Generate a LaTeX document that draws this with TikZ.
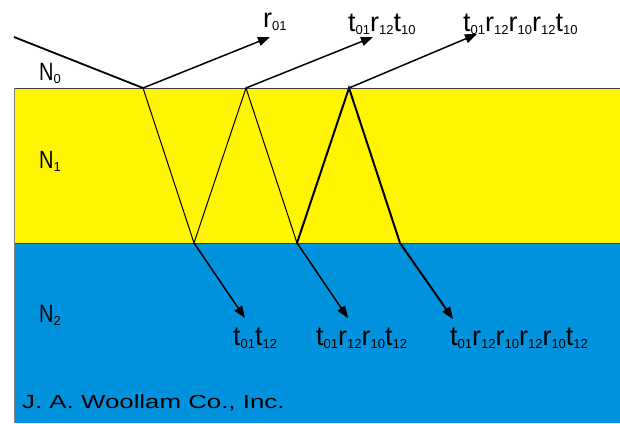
\documentclass[tikz,border=0pt]{standalone}
\usepackage{fontspec}
\setmainfont{Liberation Sans}
\usetikzlibrary{arrows.meta}
\definecolor{filmyellow}{RGB}{255,245,0}
\definecolor{subblue}{RGB}{0,146,221}
\definecolor{edgegray}{RGB}{60,60,60}
\newcommand\sbs[1]{\raisebox{-3pt}{\fontsize{13}{13}\selectfont #1}}
\newcommand\mainf{\fontsize{27}{27}\selectfont}
\tikzset{
  ray/.style={line width=1.5pt, draw=black},
  thinray/.style={line width=1pt, draw=black},
  boldray/.style={line width=2pt, draw=black},
  tip/.style={-{Triangle[length=12pt,width=9pt]}},
  lab/.style={anchor=base west, inner sep=0pt, font=\mainf},
  nlab/.style={anchor=base west, inner sep=0pt, font=\fontsize{25}{25}\selectfont},
}
\begin{document}
\begin{tikzpicture}[x=1pt,y=-1pt]
\useasboundingbox (0,0) rectangle (620,423);
\fill[white] (0,0) rectangle (620,423);
% layers
\fill[filmyellow] (14,88) rectangle (620,243);
\fill[subblue] (14,243) rectangle (620,423);
\draw[edgegray, line width=1pt] (14,88) -- (620,88);
\draw[edgegray, line width=1pt] (14,243) -- (620,243);
\draw[gray, line width=1pt] (14,88) -- (14,423);
% points
\coordinate (src) at (14,37);
\coordinate (a1) at (143,88);
\coordinate (a2) at (246,88);
\coordinate (a3) at (349,88);
\coordinate (b1) at (194,243);
\coordinate (b2) at (297,243);
\coordinate (b3) at (400,243);
\coordinate (r1) at (270,37);
\coordinate (r2) at (373,37);
\coordinate (r3) at (477,34);
\coordinate (t1) at (245,318);
\coordinate (t2) at (348,318);
\coordinate (t3) at (453,319);
% rays
\draw[ray, line width=1.8pt] (src) -- (a1);
\draw[ray, tip] (a1) -- (r1);
\draw[ray, tip] (a2) -- (r2);
\draw[ray, tip] (a3) -- (r3);
\draw[thinray, line join=miter] (a1) -- (b1) -- (a2) -- (b2);
\draw[boldray, line join=miter] (b2) -- (a3) -- (b3);
\draw[ray, tip] (b1) -- (t1);
\draw[ray, tip] (b2) -- (t2);
\draw[boldray, tip] (b3) -- (t3);
% labels
\node[lab] (l1) at (263,27) {r\sbs{01}};
\node[lab] (l2) at (348,31) {t\sbs{01}r\sbs{12}t\sbs{10}};
\node[lab] (l3) at (463,31) {t\sbs{01}r\sbs{12}r\sbs{10}r\sbs{12}t\sbs{10}};
\node[lab] (m1) at (233,345) {t\sbs{01}t\sbs{12}};
\node[lab] (m2) at (316,345) {t\sbs{01}r\sbs{12}r\sbs{10}t\sbs{12}};
\node[lab] (m3) at (450,345) {t\sbs{01}r\sbs{12}r\sbs{10}r\sbs{12}r\sbs{10}t\sbs{12}};
\node[nlab] (n0) at (39,80) {\scalebox{0.8}[1]{N}\sbs{0}};
\node[nlab] (n1) at (39,168) {\scalebox{0.8}[1]{N}\sbs{1}};
\node[nlab] (n2) at (39,322) {\scalebox{0.8}[1]{N}\sbs{2}};
\node[anchor=base west, inner sep=0pt, font=\fontsize{19}{19}\selectfont] (foot) at (22,408) {\scalebox{1.36}[1]{J. A. Woollam Co., Inc.}};
\end{tikzpicture}
\end{document}
